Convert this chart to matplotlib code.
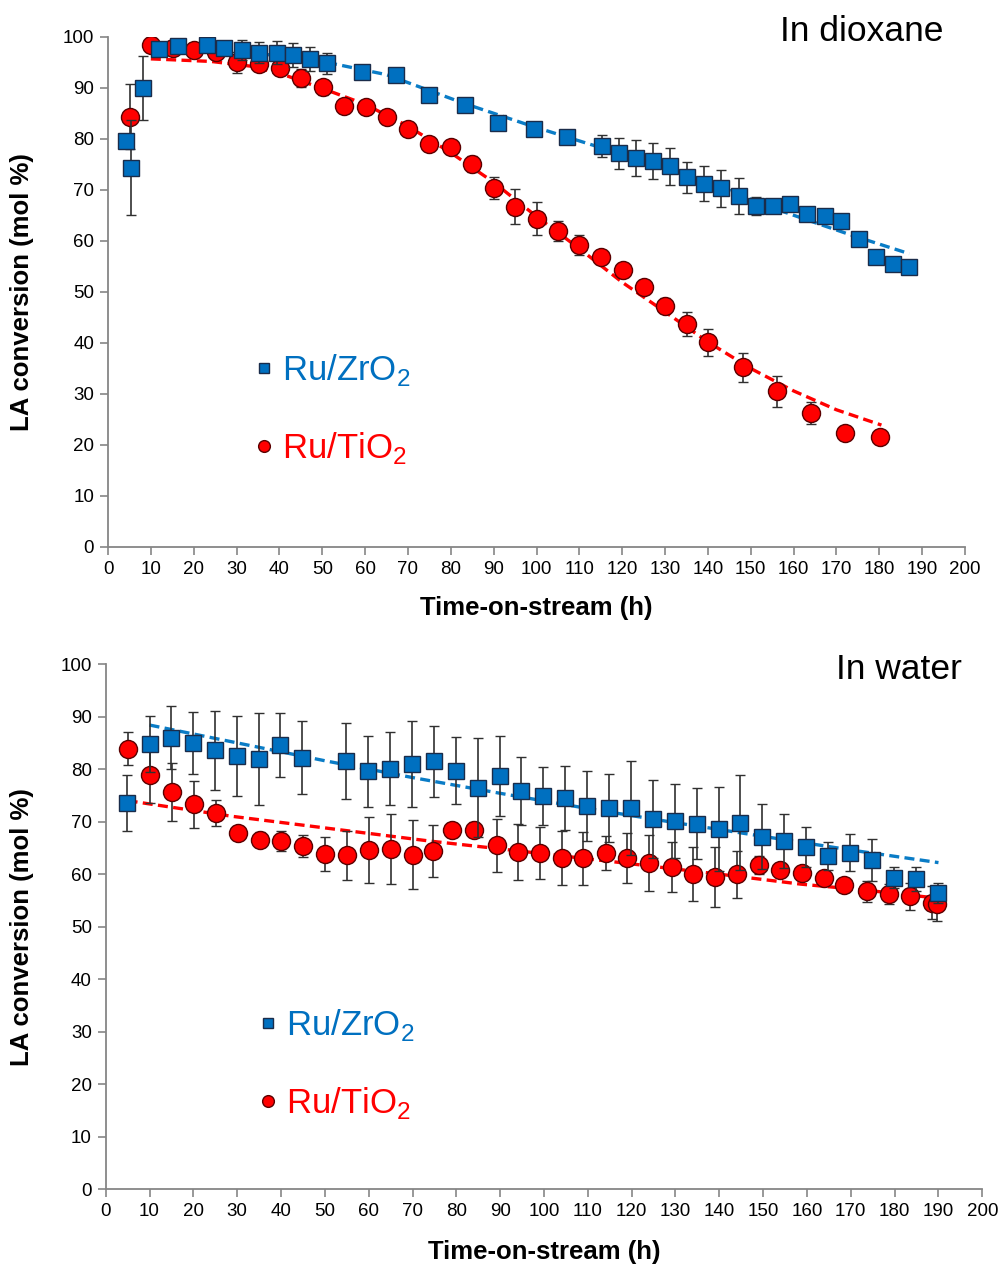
import matplotlib
matplotlib.use("Agg")
import matplotlib.pyplot as plt

plt.rcParams['font.family'] = 'Liberation Sans'
plt.rcParams['mathtext.fontset'] = 'custom'
plt.rcParams['mathtext.rm'] = 'Liberation Sans'

# ---- In dioxane: Ru/ZrO2 ----
zr_diox_t = [4.2, 5.3, 8.1, 12.0, 16.3, 23.0, 27.1, 31.2, 35.3, 39.4, 43.2, 47.1, 51.1, 59.2, 67.1, 75.0,
             83.2, 91.1, 99.3, 107.2, 115.2, 119.3, 123.3, 127.3, 131.2, 135.2, 139.2, 143.1, 147.3, 151.2,
             155.1, 159.2, 163.2, 167.3, 171.1, 175.2, 179.2, 183.1, 187.0]
zr_diox_conv = [79.5, 74.4, 90.0, 97.6, 98.2, 98.5, 97.8, 97.4, 96.9, 96.9, 96.5, 95.7, 94.8, 93.1, 92.5, 88.7,
                86.6, 83.2, 82.0, 80.4, 78.6, 77.2, 76.3, 75.7, 74.6, 72.5, 71.2, 70.3, 68.8, 66.8,
                66.8, 67.2, 65.2, 64.8, 64.0, 60.3, 56.9, 55.4, 54.8]
zr_diox_err = [0, 9.3, 6.2, 0.5, 0.5, 0, 1.0, 2.0, 2.1, 2.3, 2.3, 2.3, 2.0, 0, 0.8, 0,
               0, 0, 0, 0, 2.2, 3.0, 3.5, 3.6, 3.7, 3.0, 3.4, 3.7, 3.5, 1.8,
               0.5, 1.2, 0.7, 0, 0, 0, 0, 0, 0]
zr_diox_fit_t = [12, 30, 50, 65, 83, 99, 115, 131, 143, 155, 166, 174, 187]
zr_diox_fit = [98.4, 97.3, 95.2, 92.6, 87.0, 82.5, 78.3, 74.0, 70.6, 66.5, 63.3, 61.0, 57.5]

# ---- In dioxane: Ru/TiO2 ----
ti_diox_t = [5.1, 10.0, 15.1, 20.1, 25.1, 30.0, 35.2, 40.1, 45.1, 50.1, 55.1, 60.1, 65.0, 70.1, 75.0, 80.0,
             85.0, 90.0, 95.0, 100.0, 105.0, 110.0, 115.0, 120.1, 125.1, 130.0, 135.1, 140.1, 148.1, 156.1,
             164.1, 172.1, 180.1]
ti_diox_conv = [84.4, 98.4, 97.8, 97.4, 97.1, 95.0, 94.6, 93.9, 91.9, 90.1, 86.5, 86.3, 84.3, 81.9, 79.0, 78.4,
                75.1, 70.4, 66.7, 64.4, 62.0, 59.2, 56.9, 54.3, 50.9, 47.3, 43.7, 40.1, 35.2, 30.5,
                26.3, 22.4, 21.5]
ti_diox_err = [6.4, 0, 0, 0, 1.5, 2.0, 1.1, 1.0, 1.8, 1.4, 0.5, 0, 0, 0, 0, 0,
               1.6, 2.2, 3.4, 3.2, 2.0, 2.0, 0.6, 0.5, 0.5, 1.5, 2.4, 2.7, 2.9, 3.1,
               2.1, 0.5, 0]
ti_diox_fit_t = [10, 24, 34, 42, 51, 60, 70, 80, 90, 100, 110, 120, 130, 140, 150, 160, 170, 180.5]
ti_diox_fit = [95.7, 95.2, 94.2, 92.3, 89.6, 86.8, 82.5, 77.3, 71.5, 64.8, 58.5, 51.9, 46.1, 40.2, 35.0, 30.6,
               26.9, 23.9]

# ---- In water: Ru/ZrO2 ----
zr_wat_t = [4.8, 10.0, 14.8, 19.9, 24.9, 29.9, 34.9, 39.8, 44.7, 54.8, 59.8, 64.9, 69.8, 74.9, 79.9, 85.0,
            90.0, 94.8, 99.8, 104.8, 109.9, 114.9, 119.8, 124.9, 129.9, 135.0, 140.0, 144.7, 149.8, 154.8,
            159.8, 164.9, 169.9, 174.9, 179.9, 184.9, 190.0]
zr_wat_conv = [73.6, 84.8, 86.0, 85.0, 83.6, 82.5, 81.9, 84.6, 82.2, 81.5, 79.6, 80.1, 81.0, 81.5, 79.7, 76.5,
               78.7, 75.9, 74.9, 74.5, 73.0, 72.6, 72.6, 70.5, 70.1, 69.6, 68.6, 69.8, 67.1, 66.3,
               65.2, 63.4, 64.1, 62.7, 59.3, 59.0, 56.5]
zr_wat_err = [5.3, 5.3, 6.0, 5.9, 7.5, 7.7, 8.8, 6.1, 6.9, 7.2, 6.8, 6.9, 8.2, 6.8, 6.4, 9.5,
              7.7, 6.5, 5.6, 6.1, 6.6, 6.5, 9.0, 7.4, 7.1, 6.8, 8.0, 9.0, 6.2, 5.1,
              3.8, 2.7, 3.5, 4.0, 2.0, 2.3, 1.9]
zr_wat_fit_t = [10, 30, 50, 70, 90, 110, 130, 150, 170, 190]
zr_wat_fit = [88.4, 85.0, 81.6, 78.4, 75.4, 72.5, 69.8, 67.2, 64.6, 62.2]

# ---- In water: Ru/TiO2 ----
ti_wat_t = [5.1, 10.1, 15.1, 20.1, 25.1, 30.2, 35.2, 40.0, 45.0, 50.1, 55.1, 60.0, 65.0, 70.0, 74.7, 79.1,
            84.0, 89.2, 94.1, 99.1, 104.0, 109.0, 114.1, 119.0, 124.0, 129.1, 134.1, 139.0, 144.1, 149.1,
            153.8, 158.9, 163.9, 168.5, 173.6, 178.6, 183.5, 188.5, 189.6]
ti_wat_conv = [83.9, 78.9, 75.7, 73.3, 71.7, 67.9, 66.6, 66.3, 65.4, 63.8, 63.6, 64.6, 64.8, 63.7, 64.4, 68.4,
               68.5, 65.5, 64.2, 64.0, 63.1, 63.0, 64.0, 63.1, 62.1, 61.4, 60.0, 59.5, 60.0, 61.7,
               60.8, 60.3, 59.3, 57.9, 56.7, 56.2, 55.8, 54.6, 54.3]
ti_wat_err = [3.2, 5.3, 5.5, 4.5, 2.5, 0.3, 1.5, 1.9, 2.1, 3.2, 4.7, 6.3, 6.7, 6.6, 4.9, 1.3,
              1.4, 5.0, 5.4, 5.0, 5.1, 5.0, 3.2, 4.7, 5.3, 4.8, 5.2, 5.7, 4.5, 1.7,
              0.5, 0.5, 0.8, 0, 2.0, 1.9, 2.6, 3.2, 3.2]
ti_wat_fit_t = [5, 29, 52, 74, 94.5, 117.5, 140, 158.6, 174, 189]
ti_wat_fit = [74.0, 71.0, 68.6, 66.3, 64.4, 62.2, 60.0, 58.1, 56.9, 55.5]

x_ticks = list(range(0, 201, 10))
y_ticks = list(range(0, 101, 10))

BLUE = '#0070C0'
BLUE_LINE = '#0a7cc6'
RED = '#FF0000'
GREY = '#868686'


def draw_panel(ax, zr, ti, title, legend_anchor, title_pos, xlab_y, ylab_x):
    # trend lines first, then error bars, markers on top
    ax.plot(zr[3], zr[4], '--', color=BLUE_LINE, lw=2.4, dashes=(3, 1.6), zorder=2)
    ax.plot(ti[3], ti[4], '--', color=RED, lw=2.4, dashes=(3, 1.6), zorder=2)
    h1 = ax.errorbar(zr[0], zr[1], yerr=zr[2], fmt='s', ms=12, mfc=BLUE, mec='#1a2c4a', mew=1.0,
                     ecolor='#303030', elinewidth=1.2, capsize=3.5, capthick=1.2, zorder=4,
                     label='Ru/ZrO$_2$')
    h2 = ax.errorbar(ti[0], ti[1], yerr=ti[2], fmt='o', ms=13, mfc=RED, mec='#5a0000', mew=1.0,
                     ecolor='#303030', elinewidth=1.2, capsize=3.5, capthick=1.2, zorder=3,
                     label='Ru/TiO$_2$')

    ax.set_xlim(0, 200)
    ax.set_ylim(0, 100)
    ax.set_xticks(x_ticks)
    ax.set_yticks(y_ticks)
    for s in ['top', 'right']:
        ax.spines[s].set_visible(False)
    for s in ['left', 'bottom']:
        ax.spines[s].set_color(GREY)
        ax.spines[s].set_linewidth(1.3)
    ax.tick_params(direction='out', length=6, width=1.2, color=GREY, labelsize=13.5, pad=4)
    ax.set_xlabel('Time-on-stream (h)', fontsize=18.5, fontweight='bold')
    ax.set_ylabel('LA conversion (mol %)', fontsize=18.5, fontweight='bold')
    ax.xaxis.set_label_coords(0.5, xlab_y)
    ax.yaxis.set_label_coords(ylab_x, 0.5)

    leg = ax.legend(handles=[h1[0], h2[0]], labels=['Ru/ZrO$_2$', 'Ru/TiO$_2$'],
                    loc='center left', bbox_to_anchor=legend_anchor, frameon=False,
                    fontsize=25, markerscale=0.65, handlelength=0.6, handletextpad=0.22,
                    labelspacing=1.2)
    leg.get_texts()[0].set_color(BLUE)
    leg.get_texts()[1].set_color(RED)

    ax.text(title_pos[0], title_pos[1], title, transform=ax.transAxes, fontsize=25.5,
            ha='right', va='center')


fig = plt.figure(figsize=(10, 12.65), dpi=100)
ax_top = fig.add_axes([0.108, 0.5676, 0.857, 0.4032])
ax_bot = fig.add_axes([0.1057, 0.0599, 0.8766, 0.4151])

draw_panel(ax_top,
           (zr_diox_t, zr_diox_conv, zr_diox_err, zr_diox_fit_t, zr_diox_fit),
           (ti_diox_t, ti_diox_conv, ti_diox_err, ti_diox_fit_t, ti_diox_fit),
           'In dioxane', (0.133, 0.27), (0.975, 1.01), -0.097, -0.086)
draw_panel(ax_bot,
           (zr_wat_t, zr_wat_conv, zr_wat_err, zr_wat_fit_t, zr_wat_fit),
           (ti_wat_t, ti_wat_conv, ti_wat_err, ti_wat_fit_t, ti_wat_fit),
           'In water', (0.138, 0.238), (0.977, 0.99), -0.097, -0.082)

fig.savefig('out.png', dpi=100)
